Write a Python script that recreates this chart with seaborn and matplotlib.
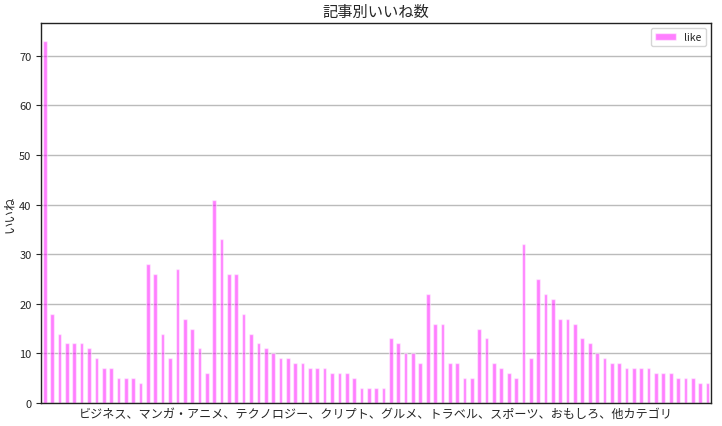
import pandas as pd
import seaborn as sns
import matplotlib.pyplot as plt

# いいね数 (記事ごと, 並び順そのまま)
likes = [73, 18, 14, 12, 12, 12, 11, 9, 7, 7, 5, 5, 5, 4,
         28, 26, 14, 9, 27, 17, 15, 11, 6,
         41, 33, 26, 26, 18, 14,
         12, 11, 10, 9, 9, 8, 8, 7, 7, 7, 6, 6, 6, 5,
         3, 3, 3, 3,
         13, 12, 10, 10, 8,
         22, 16, 16, 8, 8, 5, 5,
         15, 13, 8, 7, 6, 5,
         32, 9, 25, 22, 21, 17, 17, 16, 13, 12, 10, 9, 8, 8,
         7, 7, 7, 7, 6, 6, 6, 5, 5, 5, 4, 4]
article_ids = list(range(len(likes)))

title = '記事別いいね数'
xlabel = 'ビジネス、マンガ・アニメ、テクノロジー、クリプト、グルメ、トラベル、スポーツ、おもしろ、他カテゴリ'
ylabel = 'いいね'
series_name = 'like'
yticks = [0, 10, 20, 30, 40, 50, 60, 70]


def draw():
    sns.set_style('white')
    plt.rcParams['font.family'] = ['Noto Sans CJK JP', 'DejaVu Sans']

    df = pd.DataFrame({'article': article_ids, series_name: likes})

    fig, ax = plt.subplots(figsize=(7.22, 4.27), dpi=100)
    fig.subplots_adjust(left=0.057, right=0.985, top=0.944, bottom=0.054)

    sns.barplot(data=df, x='article', y=series_name, color='magenta',
                alpha=0.5, width=0.5, saturation=1, label=series_name, ax=ax)

    ax.set_xlim(-0.5, len(likes) - 0.5)
    ax.set_xticks([])
    ax.set_yticks(yticks)
    ax.tick_params(axis='y', left=True, length=3.5, width=0.8, labelsize=8)
    ax.yaxis.grid(True, color='#bbbbbb', linewidth=1)
    ax.set_axisbelow(True)
    for s in ax.spines.values():
        s.set_color('#222222')
        s.set_linewidth(1)

    ax.set_title(title, fontsize=11, pad=5)
    ax.set_xlabel(xlabel, fontsize=8.7, labelpad=3)
    ax.set_ylabel(ylabel, fontsize=9)
    ax.yaxis.set_label_coords(-0.038, 0.5)
    ax.legend(loc='upper right', fontsize=7.5)

    fig.savefig('out.png', dpi=100)
    plt.close(fig)


if __name__ == '__main__':
    draw()
